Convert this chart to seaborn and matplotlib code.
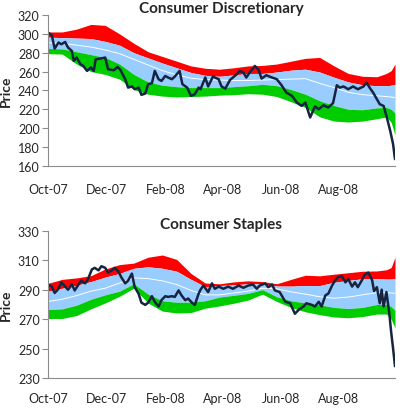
import pandas as pd
import matplotlib
matplotlib.use("Agg")
import matplotlib.pyplot as plt
import matplotlib.dates as mdates
import seaborn as sns

start = pd.Timestamp("2007-10-01")

# price lines: day offset from 1-Oct-2007 and index level
disc_days = [0, 4, 7, 11, 14, 18, 21, 25, 27, 30, 34, 37, 41, 45, 48, 50, 55, 60, 63, 69,
             73, 76, 81, 84, 88, 91, 95, 98, 102, 105, 109, 112, 116, 119, 123, 126, 130, 133,
             138, 141, 146, 150, 154, 158, 160, 165, 168, 173, 179, 182, 186, 191, 194, 198,
             201, 205, 208, 212, 217, 221, 224, 229, 235, 240, 245, 250, 256, 261, 266, 270,
             275, 280, 284, 289, 294, 299, 303, 306, 310, 315, 320, 325, 331, 334, 338, 341,
             345, 348, 352, 355, 359, 362, 364]
disc_price = [301.4, 298.5, 284.4, 290.8, 289.0, 291.4, 285.5, 281.9, 271.3, 274.9, 267.8,
              266.0, 260.7, 264.3, 260.7, 273.0, 273.8, 274.9, 262.5, 261.4, 264.9, 261.7,
              251.9, 243.0, 244.2, 241.3, 243.0, 235.3, 236.7, 246.6, 247.7, 260.7, 251.9,
              250.0, 255.4, 253.7, 251.9, 254.7, 260.7, 246.6, 243.0, 234.2, 236.0, 243.0,
              241.3, 253.7, 244.2, 254.7, 251.9, 244.2, 242.0, 251.2, 253.7, 257.2, 260.7,
              259.0, 253.7, 259.6, 266.0, 261.7, 252.6, 256.1, 253.7, 251.9, 245.5, 237.8,
              234.2, 227.2, 223.6, 227.2, 211.3, 223.0, 220.1, 224.3, 221.9, 226.5, 245.5,
              243.0, 244.2, 241.3, 244.2, 241.3, 244.2, 248.4, 242.0, 237.8, 230.7, 225.4,
              223.6, 213.0, 197.1, 183.0, 167.1]

stap_days = [0, 4, 7, 11, 14, 18, 21, 25, 28, 32, 35, 39, 42, 46, 49, 53, 56, 60, 63, 67,
             70, 74, 77, 81, 84, 88, 91, 95, 98, 102, 105, 109, 112, 116, 119, 123, 126, 130,
             133, 137, 140, 144, 147, 151, 154, 158, 160, 163, 168, 172, 175, 179, 184, 189,
             194, 200, 205, 210, 215, 219, 222, 228, 231, 235, 238, 243, 249, 254, 259, 263,
             268, 271, 277, 280, 284, 287, 291, 294, 298, 301, 304, 308, 312, 315, 319, 322,
             325, 329, 332, 336, 340, 342, 345, 348, 350, 352, 355, 358, 360, 362, 364]
stap_price = [293.5, 292.1, 287.8, 290.6, 295.0, 292.1, 290.0, 293.5, 289.5, 293.5, 296.1,
              294.3, 297.2, 303.7, 304.8, 303.1, 305.9, 304.8, 301.6, 303.1, 304.8, 302.2,
              298.3, 294.3, 296.1, 300.9, 291.7, 287.3, 281.2, 279.7, 281.2, 285.6, 281.8,
              278.6, 282.9, 285.6, 285.1, 285.6, 285.1, 289.5, 286.2, 282.9, 284.0, 281.2,
              279.7, 287.3, 290.0, 292.8, 288.4, 294.3, 290.6, 292.1, 290.6, 292.1, 290.6,
              292.8, 291.3, 292.8, 293.5, 290.6, 292.8, 294.3, 291.7, 293.5, 289.5, 288.4,
              281.8, 280.8, 273.7, 276.4, 278.6, 280.8, 279.7, 278.6, 281.8, 278.6, 286.2,
              287.3, 292.8, 296.1, 298.3, 299.4, 295.0, 297.2, 292.1, 295.0, 291.7, 296.1,
              300.0, 301.6, 296.5, 289.1, 291.7, 280.8, 290.0, 278.6, 288.4, 274.2, 261.1,
              250.1, 238.1]

# bands (half-monthly): outer upper, inner upper, average, inner lower, outer lower
band_days = [0, 15, 30, 45, 60, 75, 90, 105, 120, 135, 150, 165, 180, 195, 210, 225, 240,
             255, 270, 285, 300, 315, 330, 345, 355, 360, 364]

disc_up2 = [302, 302, 305, 310, 309, 300, 290, 281, 276, 271, 266, 263.5, 262.5, 264, 266,
            266.5, 268, 271, 274, 275, 266, 258, 255, 254.5, 258, 261, 268]
disc_up1 = [296.5, 296, 295.5, 295, 292, 288, 280, 274.5, 269, 264, 259, 256, 255, 256.5,
            258, 258, 259.5, 261.5, 262.5, 259.5, 254, 249, 246, 245, 245, 245.5, 246.5]
disc_mid = [290.5, 290, 288, 286, 283, 279, 273, 267, 261, 256.5, 253, 251.5, 251, 250.5,
            250.5, 251, 251.5, 252, 252.5, 247.5, 243, 238, 235.5, 234.3, 233.5, 233, 232.5]
disc_lo1 = [284.5, 284, 281, 278, 275, 268, 257, 249, 245.5, 244, 243, 243, 243, 244, 245,
            246.5, 245, 241, 236, 229, 224, 220, 219.5, 221.5, 222, 220, 216]
disc_lo2 = [279, 278.5, 268, 260, 257, 252, 241, 236, 234, 233, 233.5, 234, 235, 235.5,
            236.5, 236, 233.5, 228, 222, 212, 207.5, 206.5, 207.5, 210, 212, 206, 193]

stap_up2 = [294.3, 297, 298, 299.5, 304, 307, 308, 312, 313.5, 310.5, 301, 294.5, 294,
            295.3, 296, 295.5, 294, 297, 299.8, 299.4, 300.5, 301.5, 302.5, 302.7, 303.5,
            305, 312]
stap_up1 = [289, 291, 293, 295.5, 298.5, 301, 304.5, 305.5, 304.5, 302.5, 297, 292, 292.8,
            293.3, 294, 294, 292.5, 292.4, 292.8, 292.8, 295, 296.3, 297.4, 297.5, 297.2,
            297.2, 297.5]
stap_mid = [282, 283.5, 286, 289, 291, 294.5, 298, 297.5, 296, 293.5, 289.5, 286.5, 286.5,
            287.8, 289, 291, 290.6, 288.5, 287, 285.2, 284.2, 285, 286.5, 288, 288, 287.8,
            287.5]
stap_lo1 = [276.5, 277, 279.5, 283.5, 286.5, 289, 294, 287, 282.5, 281.5, 281.5, 282.5, 285,
            286.2, 287.5, 290, 285.2, 282.5, 281, 279.7, 278, 277.2, 278, 280, 280, 278.5,
            276]
stap_lo2 = [270.5, 270.5, 272.5, 277, 281, 285.5, 291, 281, 275.5, 274.2, 274.5, 277.5, 279,
            280.8, 283, 287, 282, 278, 275, 273.1, 271.5, 271, 271.8, 273.5, 273.5, 270, 264]

tick_months = ["2007-10-01", "2007-12-01", "2008-02-01", "2008-04-01", "2008-06-01",
               "2008-08-01"]

sns.set_theme(style="white")
plt.rcParams["font.family"] = ["Lato", "DejaVu Sans"]

RED = "#FF0000"
BLUE = "#99CCFF"
GREEN = "#00CC00"
NAVY = "#17243F"


def to_dates(days):
    return start + pd.to_timedelta(days, unit="D")


def draw_panel(ax, title, days, price, up2, up1, mid, lo1, lo2, ylim, xpad):
    bd = to_dates(band_days)
    ax.fill_between(bd, up1, up2, color=RED, lw=0)
    ax.fill_between(bd, lo1, up1, color=BLUE, lw=0)
    ax.fill_between(bd, lo2, lo1, color=GREEN, lw=0)
    sns.lineplot(x=bd, y=mid, ax=ax, color="white", lw=0.7)
    sns.lineplot(x=to_dates(days), y=price, ax=ax, color=NAVY, lw=1.8)

    ax.set_ylim(*ylim)
    ax.set_yticks(range(ylim[0], ylim[1] + 1, 20))
    ax.set_xlim(start, to_dates([364])[0])
    ax.set_xticks(pd.to_datetime(tick_months))
    ax.xaxis.set_major_formatter(mdates.DateFormatter("%b-%y"))
    ax.set_title(title, fontsize=11, fontweight="bold", pad=2)
    ax.set_ylabel("Price", fontsize=10, fontweight="bold", labelpad=4)
    ax.set_xlabel("")
    for s in ["top", "right"]:
        ax.spines[s].set_visible(False)
    for s in ["left", "bottom"]:
        ax.spines[s].set_color("#8C8C8C")
        ax.spines[s].set_linewidth(0.8)
    ax.tick_params(axis="y", left=True, length=4, width=0.8, color="#8C8C8C",
                   labelsize=9, pad=2)
    ax.tick_params(axis="x", bottom=False, labelsize=9, pad=xpad)


fig = plt.figure(figsize=(4.0, 4.1), dpi=100)
ax1 = fig.add_axes([0.12, 0.593, 0.8675, 0.368])
ax2 = fig.add_axes([0.12, 0.075, 0.8675, 0.360])

draw_panel(ax1, "Consumer Discretionary", disc_days, disc_price,
           disc_up2, disc_up1, disc_mid, disc_lo1, disc_lo2, (160, 320), 6)
draw_panel(ax2, "Consumer Staples", stap_days, stap_price,
           stap_up2, stap_up1, stap_mid, stap_lo1, stap_lo2, (230, 330), 4)

fig.savefig("out.png", dpi=100)
